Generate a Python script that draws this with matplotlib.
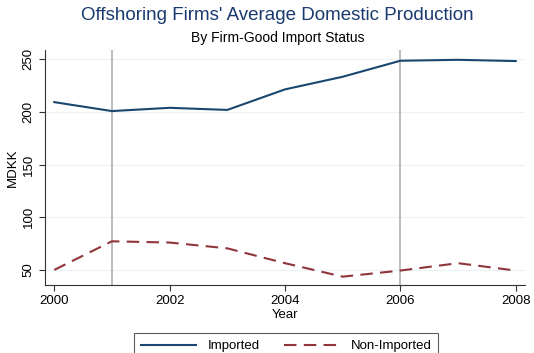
import matplotlib
matplotlib.use("Agg")
import matplotlib.pyplot as plt

years = [2000, 2001, 2002, 2003, 2004, 2005, 2006, 2007, 2008]
imported = [209.4, 200.9, 204.0, 202.0, 221.5, 233.5, 248.7, 249.6, 248.4]
non_imported = [50.0, 77.2, 76.0, 70.5, 56.4, 43.6, 49.4, 56.4, 49.4]
vlines = [2001, 2006]
xticks = [2000, 2002, 2004, 2006, 2008]
yticks = [50, 100, 150, 200, 250]

plt.rcParams['font.family'] = ['Liberation Sans', 'DejaVu Sans']
fig = plt.figure(figsize=(5.34, 3.53), dpi=100)
ax = fig.add_axes([0.0843, 0.193, 0.8987, 0.665])

for y in yticks:
    ax.axhline(y, color='#eaf2f3', lw=0.9, zorder=0)
for v in vlines:
    ax.axvline(v, color='#b0b0b0', lw=1.2, zorder=1)

l1, = ax.plot(years, imported, color='#1a476f', lw=1.5, label='Imported', zorder=3)
l2, = ax.plot(years, non_imported, color='#90353b', lw=1.5, dashes=(6, 3.5), label='Non-Imported', zorder=3)

ax.set_xlim(1999.84, 2008.16)
ax.set_ylim(35.8, 258.8)
ax.set_xticks(xticks)
ax.set_yticks(yticks)
ax.set_yticklabels([str(t) for t in yticks], rotation=90, va='center')
ax.tick_params(axis='both', labelsize=9.5, length=4, width=0.8, color='#333333')
ax.spines['top'].set_visible(False)
ax.spines['right'].set_visible(False)
ax.spines['left'].set_color('#333333')
ax.spines['bottom'].set_color('#333333')
ax.set_xlabel('Year', fontsize=9.5, labelpad=1)
ax.set_ylabel('MDKK', fontsize=9.5, labelpad=3)

fig.text(0.52, 0.955, "Offshoring Firms' Average Domestic Production", ha='center', va='center',
         fontsize=13.5, color='#1a3a6e')
fig.text(0.52, 0.893, "By Firm-Good Import Status", ha='center', va='center', fontsize=10, color='black')

leg = fig.legend(handles=[l1, l2], loc='lower center', bbox_to_anchor=(0.536, -0.035), ncol=2,
                 fontsize=9.5, frameon=True, fancybox=False, edgecolor='#333333',
                 handlelength=4.2, handletextpad=0.9, columnspacing=1.8, borderpad=0.5)
leg.get_frame().set_linewidth(0.8)

fig.savefig('out.png', dpi=100, facecolor='white')
